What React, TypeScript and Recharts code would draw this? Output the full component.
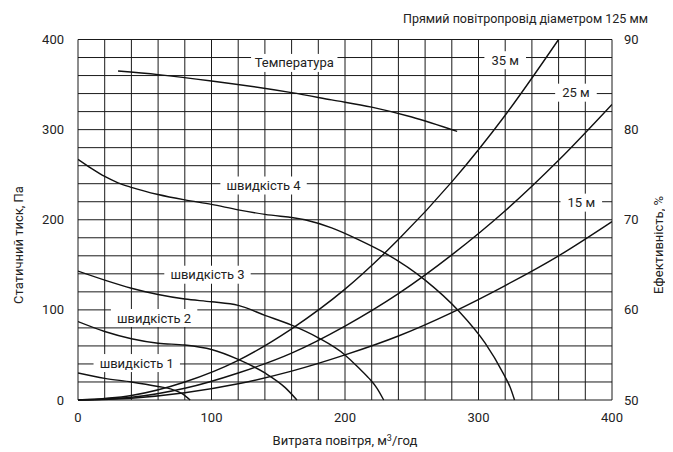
import { LineChart, Line, XAxis, YAxis, ReferenceLine, ReferenceDot } from 'recharts';

// fan curves, static pressure in Pa against airflow in m3/h
const speed1 = [
  { x: 0, y: 30 }, { x: 20, y: 24 }, { x: 40, y: 20 }, { x: 60, y: 15 },
  { x: 70, y: 12 }, { x: 78, y: 7 }, { x: 84, y: 0 },
];
const speed2 = [
  { x: 0, y: 87 }, { x: 20, y: 76 }, { x: 40, y: 68 }, { x: 60, y: 63 },
  { x: 80, y: 61 }, { x: 100, y: 56 }, { x: 120, y: 45 }, { x: 140, y: 30 },
  { x: 155, y: 14 }, { x: 164, y: 0 },
];
const speed3 = [
  { x: 0, y: 143 }, { x: 20, y: 133 }, { x: 40, y: 124 }, { x: 60, y: 117 },
  { x: 80, y: 112 }, { x: 100, y: 109 }, { x: 120, y: 105 }, { x: 140, y: 94 },
  { x: 160, y: 83 }, { x: 180, y: 69 }, { x: 200, y: 50 }, { x: 210, y: 36 },
  { x: 218, y: 24 }, { x: 224, y: 13 }, { x: 229, y: 0 },
];
const speed4 = [
  { x: 0, y: 267 }, { x: 10, y: 257 }, { x: 20, y: 248 }, { x: 30, y: 241 },
  { x: 40, y: 236 }, { x: 60, y: 228 }, { x: 80, y: 222 }, { x: 100, y: 217 },
  { x: 120, y: 211 }, { x: 140, y: 206 }, { x: 170, y: 200 }, { x: 190, y: 191 },
  { x: 210, y: 178 }, { x: 230, y: 163 }, { x: 260, y: 133 }, { x: 285, y: 99 },
  { x: 305, y: 63 }, { x: 318, y: 31 }, { x: 324, y: 13 }, { x: 327, y: 0 },
];

// duct resistance, 125 mm straight duct
const duct15 = [
  { x: 0, y: 0 }, { x: 40, y: 2 }, { x: 80, y: 8 }, { x: 120, y: 18 },
  { x: 160, y: 32 }, { x: 200, y: 50 }, { x: 240, y: 71 }, { x: 280, y: 97 },
  { x: 320, y: 127 }, { x: 360, y: 160 }, { x: 400, y: 198 },
];
const duct25 = [
  { x: 0, y: 0 }, { x: 40, y: 3 }, { x: 80, y: 13 }, { x: 120, y: 30 },
  { x: 160, y: 52 }, { x: 200, y: 82 }, { x: 240, y: 118 }, { x: 280, y: 161 },
  { x: 320, y: 210 }, { x: 360, y: 266 }, { x: 400, y: 328 },
];
const duct35 = [
  { x: 0, y: 0 }, { x: 40, y: 5 }, { x: 80, y: 20 }, { x: 120, y: 44 },
  { x: 160, y: 79 }, { x: 200, y: 123 }, { x: 240, y: 178 }, { x: 280, y: 242 },
  { x: 320, y: 316 }, { x: 360, y: 400 },
];

// efficiency %, right axis
const temperature = [
  { x: 30, y: 86.5 }, { x: 60, y: 86.1 }, { x: 100, y: 85.4 }, { x: 160, y: 84.1 },
  { x: 190, y: 83.3 }, { x: 220, y: 82.5 }, { x: 250, y: 81.4 }, { x: 284, y: 79.8 },
];

const xTicks = [0, 100, 200, 300, 400];
const pressureTicks = [0, 100, 200, 300, 400];
const efficiencyTicks = [50, 60, 70, 80, 90];
const gridX = [0, 20, 40, 60, 80, 100, 120, 140, 160, 180, 200, 220, 240, 260, 280, 300, 320, 340, 360, 380, 400];
const gridY = [0, 20, 40, 60, 80, 100, 120, 140, 160, 180, 200, 220, 240, 260, 280, 300, 320, 340, 360, 380, 400];

const curveLabels = [
  { text: 'Температура', x: 162, y: 374 },
  { text: 'швидкість 4', x: 139, y: 238 },
  { text: 'швидкість 3', x: 97, y: 139 },
  { text: 'швидкість 2', x: 57, y: 91 },
  { text: 'швидкість 1', x: 44, y: 41 },
  { text: '35 м', x: 320, y: 377 },
  { text: '25 м', x: 373, y: 341 },
  { text: '15 м', x: 377, y: 219 },
];

const FONT = 'Roboto, "Noto Sans", sans-serif';
const INK = '#222';

function BoxLabel({ cx, cy, text }: any) {
  const w = text.length * 6.4 + 16;
  return (
    <g>
      <rect x={cx - w / 2} y={cy - 9} width={w} height={18} fill="#fff" />
      <text x={cx} y={cy} dy="0.35em" textAnchor="middle" fontSize={13} fontFamily={FONT} fill={INK}>
        {text}
      </text>
    </g>
  );
}

const tickStyle = { fontSize: 13, fill: INK, fontFamily: FONT };

export default function App() {
  const series = [speed1, speed2, speed3, speed4, duct15, duct25, duct35];
  return (
    <div style={{ position: 'relative', width: 665, height: 444, fontFamily: FONT, color: INK }}>
      <div style={{ position: 'absolute', right: 25, top: 3, fontSize: 12.5, whiteSpace: 'nowrap' }}>
        Прямий повітропровід діаметром 125 мм
      </div>
      <LineChart width={665} height={444} margin={{ top: 31.5, right: 0, bottom: 0, left: 0 }}>
        <XAxis
          type="number"
          dataKey="x"
          domain={[0, 400]}
          ticks={xTicks}
          allowDataOverflow
          height={52}
          tickLine={false}
          axisLine={false}
          tickSize={0}
          tickMargin={13}
          tick={tickStyle}
        />
        <YAxis
          yAxisId="left"
          type="number"
          domain={[0, 400]}
          ticks={pressureTicks}
          width={70}
          tickLine={false}
          axisLine={false}
          tickSize={0}
          tickMargin={14}
          tick={tickStyle}
        />
        <YAxis
          yAxisId="right"
          orientation="right"
          type="number"
          domain={[50, 90]}
          ticks={efficiencyTicks}
          width={61}
          tickLine={false}
          axisLine={false}
          tickSize={0}
          tickMargin={12}
          tick={tickStyle}
        />
        {gridX.map((v) => (
          <ReferenceLine key={'gx' + v} yAxisId="left" x={v} stroke="#1a1a1a" strokeWidth={1} />
        ))}
        {gridY.map((v) => (
          <ReferenceLine key={'gy' + v} yAxisId="left" y={v} stroke="#1a1a1a" strokeWidth={1} />
        ))}
        {series.map((s, i) => (
          <Line
            key={i}
            yAxisId="left"
            data={s}
            dataKey="y"
            type="monotone"
            stroke="#111"
            strokeWidth={1.4}
            dot={false}
            activeDot={false}
            isAnimationActive={false}
          />
        ))}
        <Line
          yAxisId="right"
          data={temperature}
          dataKey="y"
          type="monotone"
          stroke="#111"
          strokeWidth={1.4}
          dot={false}
          activeDot={false}
          isAnimationActive={false}
        />
        {curveLabels.map((l) => (
          <ReferenceDot
            key={l.text}
            yAxisId="left"
            x={l.x}
            y={l.y}
            r={0}
            ifOverflow="visible"
            shape={(p: any) => <BoxLabel cx={p.cx} cy={p.cy} text={l.text} />}
          />
        ))}
      </LineChart>
      <div
        style={{
          position: 'absolute', left: 10, top: 237, fontSize: 13, whiteSpace: 'nowrap',
          transform: 'translate(-50%, -50%) rotate(-90deg)',
        }}
      >
        Статичний тиск, Па
      </div>
      <div
        style={{
          position: 'absolute', left: 650, top: 237, fontSize: 13, whiteSpace: 'nowrap',
          transform: 'translate(-50%, -50%) rotate(-90deg)',
        }}
      >
        Ефективність, %
      </div>
      <div
        style={{
          position: 'absolute', left: 337, top: 425, fontSize: 13, whiteSpace: 'nowrap',
          transform: 'translateX(-50%)', lineHeight: '16px',
        }}
      >
        Витрата повітря, м<sup style={{ fontSize: 9, verticalAlign: 'top', lineHeight: '10px' }}>3</sup>/год
      </div>
    </div>
  );
}
